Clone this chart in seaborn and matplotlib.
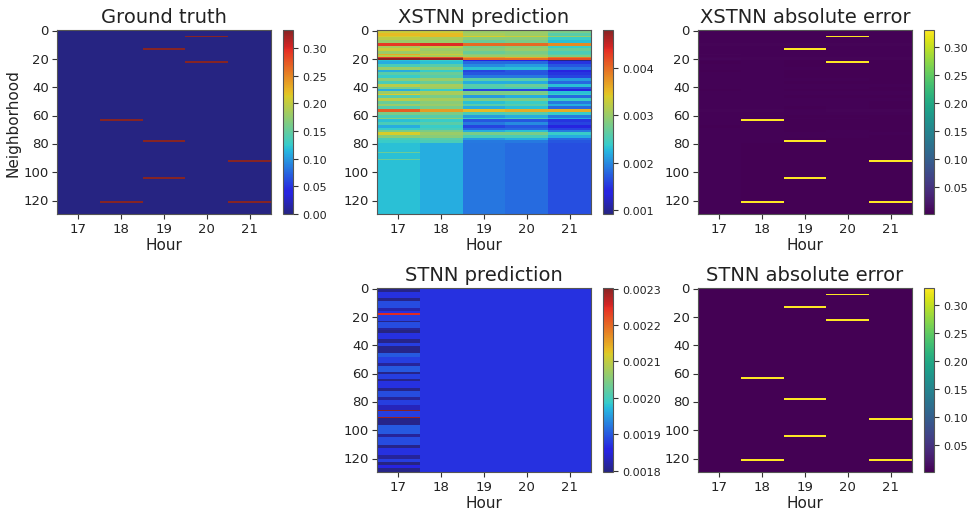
import numpy as np
import pandas as pd
import matplotlib as mpl
mpl.use("Agg")
import matplotlib.pyplot as plt
import seaborn as sns
from matplotlib.colors import ListedColormap
from matplotlib.ticker import MultipleLocator, FormatStrFormatter

hours = [17, 18, 19, 20, 21]
n_rows = 130

# ground truth: the few non-zero cells (neighborhood, hour)
event_rows = [4, 13, 22, 63, 78, 92, 104, 121, 121]
event_hours = [20, 19, 20, 18, 19, 21, 19, 18, 21]
event_value = 0.333

# XSTNN prediction (x 1e-3), given as runs of neighborhoods with equal values
xstnn_run = [2, 2, 1, 2, 2, 2, 2, 2, 2, 1, 1, 1, 1, 1,
             2, 2, 2, 2, 2, 2, 2, 2, 2, 2,
             1, 2, 1, 2, 2, 2, 2, 2, 2, 2, 2, 1, 2, 2, 2, 2, 1, 2, 2, 2, 2,
             6, 1, 4, 1, 38]
xstnn_17 = [3.3, 3.5, 3.4, 3.2, 3.0, 4.3, 3.1, 3.3, 3.0, 3.6, 3.2, 4.3, 4.8, 2.3,
            2.2, 2.5, 3.0, 2.2, 2.6, 2.4, 2.9, 2.5, 3.2, 2.8,
            2.2, 3.0, 3.4, 2.6, 3.2, 2.7, 3.0, 2.6, 4.1, 2.8, 2.5, 2.9, 2.3, 2.5, 2.2, 2.4, 2.8, 3.4, 2.9, 2.5, 2.4,
            2.3, 2.7, 2.3, 2.7, 2.3]
xstnn_18 = [3.3, 3.5, 3.5, 3.1, 3.0, 4.4, 3.2, 3.0, 3.1, 3.3, 3.1, 4.2, 4.7, 2.4,
            2.3, 2.6, 2.9, 2.4, 2.7, 2.6, 3.0, 2.7, 3.1, 3.0,
            2.4, 3.1, 3.1, 2.8, 3.1, 2.9, 3.0, 2.8, 3.7, 2.8, 2.6, 2.9, 2.4, 2.6, 2.4, 2.5, 2.8, 3.0, 2.9, 2.6, 2.5,
            2.2, 2.2, 2.2, 2.2, 2.2]
xstnn_19 = [3.0, 3.1, 3.4, 2.9, 2.7, 4.0, 2.8, 2.9, 2.7, 2.9, 3.0, 3.7, 4.0, 1.4,
            1.8, 2.0, 2.3, 1.6, 1.7, 1.9, 2.6, 2.2, 2.6, 2.5,
            1.6, 2.8, 2.9, 2.1, 2.8, 2.3, 2.6, 2.2, 3.5, 2.5, 2.1, 2.4, 1.7, 1.9, 1.6, 1.8, 2.2, 2.8, 2.5, 2.1, 1.9,
            1.88, 1.88, 1.88, 1.88, 1.88]
xstnn_20 = [3.0, 3.0, 3.3, 2.9, 2.8, 4.0, 2.9, 3.0, 2.8, 2.9, 3.0, 3.6, 4.0, 1.4,
            1.8, 2.1, 2.3, 1.7, 1.7, 1.9, 2.6, 2.2, 2.7, 2.5,
            1.6, 2.8, 2.9, 2.2, 2.8, 2.4, 2.6, 2.3, 3.6, 2.6, 2.2, 2.5, 1.7, 2.0, 1.7, 1.8, 2.3, 2.8, 2.5, 2.2, 1.9,
            1.82, 1.82, 1.82, 1.82, 1.82]
xstnn_21 = [2.8, 2.6, 3.0, 2.4, 2.3, 3.8, 2.4, 2.7, 2.5, 2.6, 2.8, 3.9, 4.2, 0.92,
            1.5, 1.7, 1.9, 1.4, 1.5, 1.6, 2.1, 1.8, 2.3, 1.7,
            1.4, 2.3, 2.4, 1.8, 2.4, 1.9, 2.2, 1.8, 3.6, 2.4, 1.9, 2.2, 1.5, 1.6, 1.4, 1.6, 1.9, 2.4, 2.2, 1.8, 1.7,
            1.65, 1.65, 1.65, 1.65, 1.65]

# STNN prediction (x 1e-3): hour 17 varies by neighborhood, later hours are flat
stnn_run = [3, 4, 2, 5, 2, 2, 1, 4, 1, 4, 2, 2, 4, 3, 2, 5, 3, 4, 2, 4, 2,
            3, 2, 5, 2, 4, 2, 4, 3, 1, 4, 1, 5, 6, 2, 6, 2, 5, 3, 2, 2, 2, 3]
stnn_17 = [1.800, 1.870, 1.800, 1.890, 1.820, 1.870, 2.250, 1.880, 1.800, 1.890, 1.810,
           1.796, 1.870, 1.800, 1.880, 1.800, 1.900, 1.880, 1.810, 1.900, 1.800,
           1.880, 1.800, 1.870, 1.800, 1.890, 1.810, 1.880, 1.830, 2.302, 1.880, 2.290,
           1.800, 1.900, 1.810, 1.890, 1.800, 1.870, 1.810, 1.880, 1.796, 1.860, 1.800]
stnn_later = [1.870, 1.870, 1.870, 1.870]

truth = np.zeros((n_rows, len(hours)))
for r, h in zip(event_rows, event_hours):
    truth[r, hours.index(h)] = event_value

xstnn = np.column_stack([np.repeat(c, xstnn_run)
                         for c in (xstnn_17, xstnn_18, xstnn_19, xstnn_20, xstnn_21)]) * 1e-3
stnn = np.column_stack([np.repeat(stnn_17, stnn_run)] +
                       [np.full(n_rows, v) for v in stnn_later]) * 1e-3

idx = list(range(n_rows))
truth_df = pd.DataFrame(truth, index=idx, columns=hours)
xstnn_df = pd.DataFrame(xstnn, index=idx, columns=hours)
stnn_df = pd.DataFrame(stnn, index=idx, columns=hours)
xstnn_err = (truth_df - xstnn_df).abs()
stnn_err = (truth_df - stnn_df).abs()

# washed-out jet, closer to the look of the original figure
jet = plt.get_cmap("jet")(np.linspace(0, 1, 256))[:, :3]
muted_jet = ListedColormap(jet * np.array([0.75, 0.66, 0.74]) + np.array([0.15, 0.14, 0.14]))

fig = plt.figure(figsize=(9.69, 5.10), dpi=100)
W, H = 969.0, 510.0


def panel(left, top, data, cmap, title, ylabel=None, step=None, fmt=None):
    ax = fig.add_axes([left / W, 1 - (top + 184) / H, 214 / W, 184 / H])
    cax = fig.add_axes([(left + 226) / W, 1 - (top + 184) / H, 10 / W, 184 / H])
    sns.heatmap(data, ax=ax, cbar_ax=cax, cmap=cmap, xticklabels=hours, yticklabels=20,
                linewidths=0, edgecolor="none")
    for s in ax.spines.values():
        s.set_visible(True)
        s.set_color("#555555")
        s.set_linewidth(0.8)
    cb = ax.collections[0].colorbar
    cb.outline.set_visible(True)
    cb.outline.set_linewidth(0.8)
    cb.outline.set_edgecolor("#555555")
    cax.yaxis.set_major_locator(MultipleLocator(step))
    cax.yaxis.set_major_formatter(FormatStrFormatter(fmt))
    cax.tick_params(labelsize=8, length=3.5, color="#333333", labelcolor="#222222")
    ax.tick_params(labelsize=9.5, length=3.5, pad=2.5, color="#333333", labelcolor="#222222")
    ax.set_yticklabels(ax.get_yticklabels(), rotation=0)
    ax.set_xticklabels(ax.get_xticklabels(), rotation=0)
    ax.set_title(title, fontsize=14, color="#222222")
    ax.set_xlabel("Hour", fontsize=11, color="#222222", labelpad=1)
    ax.set_ylabel(ylabel if ylabel else "", fontsize=11, color="#222222", labelpad=2)
    return ax


panel(57, 31, truth_df, muted_jet, "Ground truth", "Neighborhood", 0.05, "%.2f")
panel(377, 31, xstnn_df, muted_jet, "XSTNN prediction", None, 0.001, "%.3f")
panel(698, 31, xstnn_err, "viridis", "XSTNN absolute error", None, 0.05, "%.2f")
panel(377, 289, stnn_df, muted_jet, "STNN prediction", None, 0.0001, "%.4f")
panel(698, 289, stnn_err, "viridis", "STNN absolute error", None, 0.05, "%.2f")

fig.savefig("out.png", dpi=100)
